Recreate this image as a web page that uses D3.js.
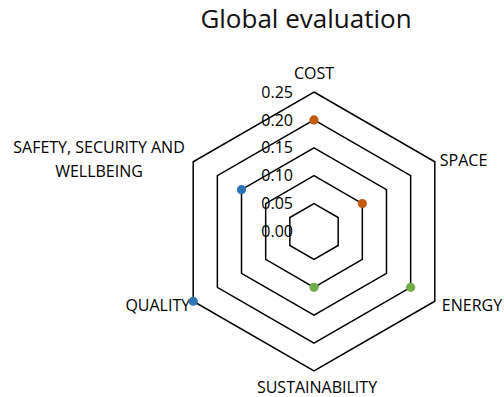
<!DOCTYPE html>
<html><head><meta charset="utf-8">
<script src="https://cdn.jsdelivr.net/npm/d3@7"></script>
<style>body{margin:0;background:#fff;} svg{display:block;font-family:"Open Sans",sans-serif;}</style>
</head><body>
<script>
const categories = ["COST","SPACE","ENERGY","SUSTAINABILITY","QUALITY","SAFETY, SECURITY AND WELLBEING"];
const seriesOrange = [0.20, 0.10, null, null, null, null];
const seriesGreen  = [null, null, 0.20, 0.10, null, null];
const seriesBlue   = [null, null, null, null, 0.25, 0.15];
const tickValues = [0, 0.05, 0.10, 0.15, 0.20, 0.25];
const tickLabels = ["0.00","0.05","0.10","0.15","0.20","0.25"];
const title = "Global evaluation";

const W = 504, H = 397, cx = 314, cy = 231.5, R = 139.5;
const svg = d3.select("body").append("svg").attr("width", W).attr("height", H);
const r = d3.scaleLinear().domain([0, 0.25]).range([0, R]);
const ang = d3.scalePoint().domain(d3.range(categories.length + 1)).range([0, 2*Math.PI]);
const pt = (i, v) => { const a = ang(i); return [cx + r(v)*Math.sin(a), cy - r(v)*Math.cos(a)]; };

svg.append("text").attr("x", 306).attr("y", 28).attr("text-anchor", "middle")
  .attr("font-size", 26).attr("fill", "#111").text(title);

// grid hexagons
const line = d3.line();
svg.append("g").selectAll("path").data(tickValues.filter(t => t > 0)).join("path")
  .attr("d", t => line(categories.map((c, i) => pt(i, t))) + "Z")
  .attr("fill", "none").attr("stroke", "#000").attr("stroke-width", 1.5);

// tick labels
svg.append("g").selectAll("text").data(tickValues).join("text")
  .attr("x", cx - 21).attr("y", t => cy - r(t)).attr("dy", "0.35em")
  .attr("text-anchor", "end").attr("font-size", 16).attr("fill", "#000")
  .text((t, i) => tickLabels[i]);

// category labels
const lab = svg.append("g").attr("font-size", 16).attr("fill", "#000");
categories.forEach((c, i) => {
  const [x, y] = pt(i, 0.25);
  let t;
  if (i === 0) t = lab.append("text").attr("x", x).attr("y", y - 13).attr("text-anchor", "middle");
  else if (i === 1) t = lab.append("text").attr("x", x + 5).attr("y", y + 4).attr("text-anchor", "start");
  else if (i === 2) t = lab.append("text").attr("x", x + 7).attr("y", y + 10).attr("text-anchor", "start");
  else if (i === 3) t = lab.append("text").attr("x", x + 3).attr("y", y + 22).attr("text-anchor", "middle");
  else if (i === 4) t = lab.append("text").attr("x", x - 3).attr("y", y + 10).attr("text-anchor", "end");
  else {
    const words = c.split(" ");
    t = lab.append("text").attr("x", 99).attr("y", y - 8.5).attr("text-anchor", "middle");
    t.append("tspan").attr("x", 99).text(words.slice(0, 3).join(" "));
    t.append("tspan").attr("x", 99).attr("dy", "23.4").text(words.slice(3).join(" "));
    return;
  }
  t.text(c);
});

// markers
const series = [[seriesOrange, "#C55A11"], [seriesGreen, "#70AD47"], [seriesBlue, "#2E75B6"]];
series.forEach(([vals, col]) => {
  svg.append("g").selectAll("circle").data(vals.map((v, i) => ({v, i})).filter(d => d.v !== null)).join("circle")
    .attr("cx", d => pt(d.i, d.v)[0]).attr("cy", d => pt(d.i, d.v)[1])
    .attr("r", 4.6).attr("fill", col);
});
</script>
</body></html>
